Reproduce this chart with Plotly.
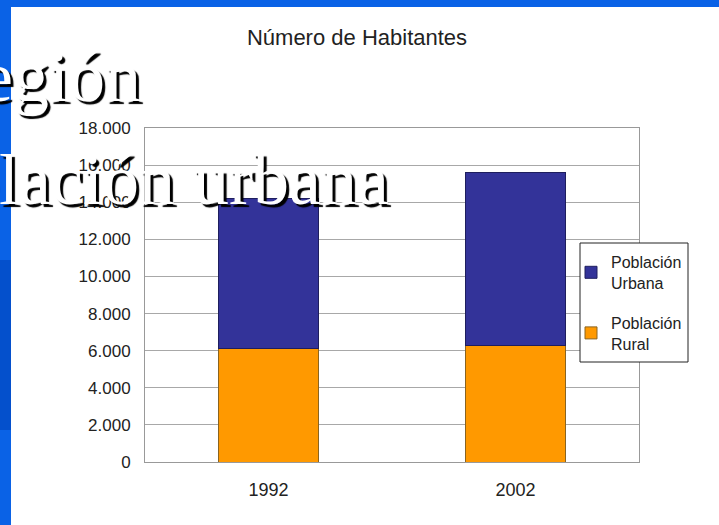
import plotly.graph_objects as go

# ---- data ----
years = ["1992", "2002"]
rural = [6100, 6300]
urbana = [8100, 9300]
y_tickvals = [0, 2000, 4000, 6000, 8000, 10000, 12000, 14000, 16000, 18000]
y_ticktext = ["0", "2.000", "4.000", "6.000", "8.000", "10.000", "12.000", "14.000", "16.000", "18.000"]
series_names = ["Población<br>Rural", "Población<br>Urbana"]
chart_title = "Número de Habitantes"
slide_line1 = "Región"
slide_line2 = "Población urbana"

W, H = 719, 525
L, R, T, B = 145, 80, 128, 63
pw, ph = W - L - R, H - T - B


def px_x(p):
    return (p - L) / pw


def px_y(p):
    return (H - B - p) / ph


sans = "Liberation Sans, Arial, sans-serif"

fig = go.Figure()
fig.add_trace(go.Bar(
    x=years, y=rural, name=series_names[0], legendgroup="r", legendrank=2,
    marker=dict(color="#FF9900", line=dict(color="#8a6420", width=1)),
))
fig.add_trace(go.Bar(
    x=years, y=urbana, name=series_names[1], legendgroup="u", legendrank=1,
    marker=dict(color="#333399", line=dict(color="#1e1e5e", width=1)),
))

shapes = [
    # white slide body over blue frame
    dict(type="rect", xref="paper", yref="paper", layer="below",
         x0=px_x(11), x1=px_x(W + 20), y0=px_y(H + 20), y1=px_y(7),
         fillcolor="white", line=dict(width=0)),
    # darker band on left blue strip
    dict(type="rect", xref="paper", yref="paper", layer="below",
         x0=px_x(-5), x1=px_x(11), y0=px_y(430), y1=px_y(260),
         fillcolor="#0450cc", line=dict(width=0)),
    # legend frame
    dict(type="rect", xref="paper", yref="paper", layer="above",
         x0=px_x(580), x1=px_x(688), y0=px_y(362), y1=px_y(243),
         fillcolor="white", line=dict(color="#222222", width=1)),
]

annotations = [
    dict(text=slide_line1, xref="paper", yref="paper", x=px_x(143), y=px_y(77),
         xanchor="right", yanchor="middle", showarrow=False,
         font=dict(family="Liberation Serif, Times New Roman, serif", size=72,
                   color="white", shadow="3px 3px 1px black")),
    dict(text=slide_line2, xref="paper", yref="paper", x=px_x(391), y=px_y(180),
         xanchor="right", yanchor="middle", showarrow=False,
         font=dict(family="Liberation Serif, Times New Roman, serif", size=72,
                   color="white", shadow="3px 3px 1px black")),
]

fig.update_layout(
    width=W, height=H,
    margin=dict(l=L, r=R, t=T, b=B, pad=0),
    paper_bgcolor="#0a62e6",
    plot_bgcolor="white",
    barmode="stack",
    bargap=0.595,
    font=dict(family=sans, color="#222222"),
    title=dict(text=chart_title, x=357 / W, xanchor="center", xref="container",
               y=1 - 37 / H, yanchor="middle", yref="container",
               font=dict(family=sans, size=22, color="#222222")),
    legend=dict(
        x=px_x(571), y=px_y(245), xanchor="left", yanchor="top",
        bgcolor="rgba(0,0,0,0)", borderwidth=0,
        font=dict(family=sans, size=16, color="#222222"),
        traceorder="grouped", tracegroupgap=16, itemwidth=30,
    ),
    shapes=shapes,
    annotations=annotations,
)
fig.update_xaxes(
    type="category", range=[-0.5, 1.5],
    showline=True, linecolor="#999999", linewidth=1, mirror=True,
    showgrid=False, ticks="", ticklabelstandoff=11,
    tickfont=dict(family=sans, size=18, color="#222222"),
)
fig.update_yaxes(
    range=[0, 18000], tickvals=y_tickvals, ticktext=y_ticktext,
    showline=True, linecolor="#999999", linewidth=1, mirror=True,
    showgrid=True, gridcolor="#a8a8a8", gridwidth=1,
    zeroline=False, ticks="", ticklabelstandoff=10,
    tickfont=dict(family=sans, size=17, color="#222222"),
)

fig.write_html("out.html", config={"displayModeBar": False},
               post_script="document.body.style.margin='0px';")
